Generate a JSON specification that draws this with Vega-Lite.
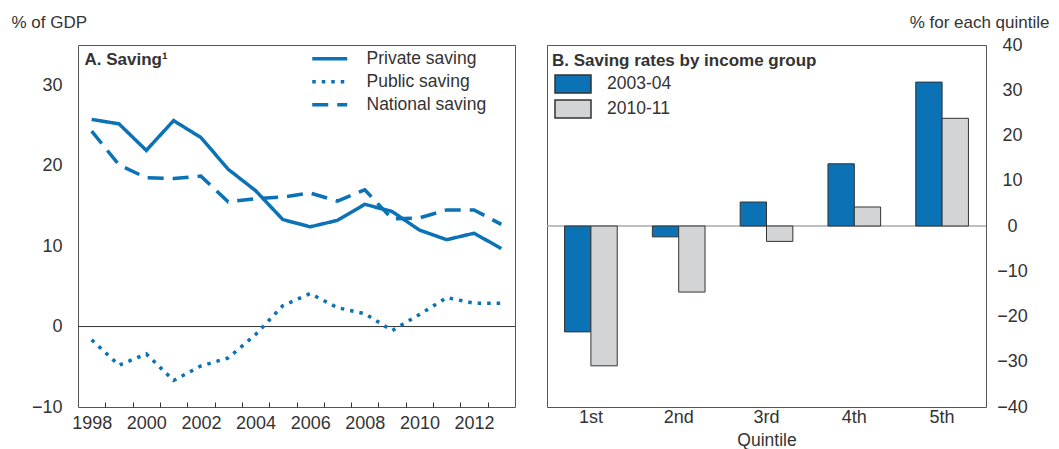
{
  "$schema": "https://vega.github.io/schema/vega-lite/v6.json",
  "padding": {"left": 10, "top": 12, "right": 5, "bottom": 0},
  "background": "white",
  "config": {
    "font": "Liberation Sans",
    "view": {"stroke": "#555", "strokeWidth": 1},
    "axis": {"labelColor": "#333", "titleColor": "#333", "domain": false, "grid": false, "labelFont": "Liberation Sans", "titleFont": "Liberation Sans"},
    "legend": {"labelFont": "Liberation Sans", "labelColor": "#333", "titleFont": "Liberation Sans", "titleColor": "#333"},
    "concat": {"spacing": 29}
  },
  "resolve": {"legend": {"strokeDash": "independent", "fill": "independent"}},
  "hconcat": [
    {
      "width": 437,
      "height": 362,
      "encoding": {
        "y": {
          "field": "v", "type": "quantitative",
          "scale": {"domain": [-10, 35], "nice": false, "zero": false},
          "axis": {"values": [-10, 0, 10, 20, 30], "ticks": false, "labelPadding": 16, "labelFontSize": 18, "title": "% of GDP", "titleAngle": 0, "titleAlign": "left", "titleBaseline": "top", "titleX": -67, "titleY": -31, "titleFontSize": 17, "titleFontWeight": "normal"}
        }
      },
      "layer": [
        {
          "data": {"values": [{"v": 0}]},
          "mark": {"type": "rule", "color": "#333", "strokeWidth": 1}
        },
        {
          "data": {"values": [
            {"year": 1998, "series": "Private saving", "v": 25.75},
            {"year": 1999, "series": "Private saving", "v": 25.2},
            {"year": 2000, "series": "Private saving", "v": 21.9},
            {"year": 2001, "series": "Private saving", "v": 25.6},
            {"year": 2002, "series": "Private saving", "v": 23.5},
            {"year": 2003, "series": "Private saving", "v": 19.55},
            {"year": 2004, "series": "Private saving", "v": 16.9},
            {"year": 2005, "series": "Private saving", "v": 13.3},
            {"year": 2006, "series": "Private saving", "v": 12.4},
            {"year": 2007, "series": "Private saving", "v": 13.2},
            {"year": 2008, "series": "Private saving", "v": 15.2},
            {"year": 2009, "series": "Private saving", "v": 14.3},
            {"year": 2010, "series": "Private saving", "v": 12.0},
            {"year": 2011, "series": "Private saving", "v": 10.8},
            {"year": 2012, "series": "Private saving", "v": 11.6},
            {"year": 2013, "series": "Private saving", "v": 9.7},
            {"year": 1998, "series": "Public saving", "v": -1.65},
            {"year": 1999, "series": "Public saving", "v": -4.8},
            {"year": 2000, "series": "Public saving", "v": -3.4},
            {"year": 2001, "series": "Public saving", "v": -6.7},
            {"year": 2002, "series": "Public saving", "v": -4.9},
            {"year": 2003, "series": "Public saving", "v": -3.9},
            {"year": 2004, "series": "Public saving", "v": -1.0},
            {"year": 2005, "series": "Public saving", "v": 2.6},
            {"year": 2006, "series": "Public saving", "v": 4.1},
            {"year": 2007, "series": "Public saving", "v": 2.35},
            {"year": 2008, "series": "Public saving", "v": 1.6},
            {"year": 2009, "series": "Public saving", "v": -0.5},
            {"year": 2010, "series": "Public saving", "v": 1.5},
            {"year": 2011, "series": "Public saving", "v": 3.6},
            {"year": 2012, "series": "Public saving", "v": 2.9},
            {"year": 2013, "series": "Public saving", "v": 2.9},
            {"year": 1998, "series": "National saving", "v": 24.3},
            {"year": 1999, "series": "National saving", "v": 20.1},
            {"year": 2000, "series": "National saving", "v": 18.5},
            {"year": 2001, "series": "National saving", "v": 18.4},
            {"year": 2002, "series": "National saving", "v": 18.7},
            {"year": 2003, "series": "National saving", "v": 15.5},
            {"year": 2004, "series": "National saving", "v": 15.9},
            {"year": 2005, "series": "National saving", "v": 16.1},
            {"year": 2006, "series": "National saving", "v": 16.6},
            {"year": 2007, "series": "National saving", "v": 15.6},
            {"year": 2008, "series": "National saving", "v": 17.0},
            {"year": 2009, "series": "National saving", "v": 13.4},
            {"year": 2010, "series": "National saving", "v": 13.5},
            {"year": 2011, "series": "National saving", "v": 14.5},
            {"year": 2012, "series": "National saving", "v": 14.5},
            {"year": 2013, "series": "National saving", "v": 12.7}
          ]},
          "mark": {"type": "line", "color": "#0b72b5", "strokeWidth": 3.5},
          "encoding": {
            "x": {
              "field": "year", "type": "quantitative",
              "scale": {"domain": [1997.5, 2013.5], "nice": false, "zero": false},
              "axis": {
                "title": "A. Saving¹", "titleAngle": 0, "titleAlign": "left", "titleBaseline": "middle", "titleX": 6, "titleY": -348, "titleFontSize": 17, "titleFontWeight": "bold",
                "values": [1998, 1998.5, 1999.5, 2000, 2000.5, 2001.5, 2002, 2002.5, 2003.5, 2004, 2004.5, 2005.5, 2006, 2006.5, 2007.5, 2008, 2008.5, 2009.5, 2010, 2010.5, 2011.5, 2012, 2012.5],
                "labelExpr": "datum.value % 1 == 0 ? '' + datum.value : ''",
                "labelOverlap": false, "labelFlush": false,
                "labelFontSize": 18, "labelPadding": 12,
                "tickSize": -5, "tickColor": "#333",
                "tickOpacity": {"condition": {"test": "datum.value % 1 == 0", "value": 0}, "value": 1}
              }
            },
            "strokeDash": {
              "field": "series", "type": "nominal",
              "scale": {"domain": ["Private saving", "Public saving", "National saving"], "range": [[1, 0], [3.5, 6], [16, 9]]},
              "legend": {"title": null, "orient": "none", "legendX": 243, "legendY": 5, "symbolType": "M-3,0H3", "symbolSize": 136, "symbolStrokeWidth": 3.5, "symbolStrokeColor": "#0b72b5", "symbolFillColor": "transparent", "labelFontSize": 17.5, "labelOffset": 28, "rowPadding": 4}
            }
          }
        }
      ]
    },
    {
      "width": 439,
      "height": 362,
      "encoding": {
        "y": {
          "field": "v", "type": "quantitative",
          "scale": {"domain": [-40, 40], "nice": false, "zero": false},
          "axis": {"orient": "right", "values": [-40, -30, -20, -10, 0, 10, 20, 30, 40], "ticks": false, "labelAlign": "center", "labelPadding": 26, "labelFontSize": 18, "title": "% for each quintile", "titleAngle": 0, "titleAlign": "right", "titleBaseline": "top", "titleX": 63, "titleY": -31, "titleFontSize": 17, "titleFontWeight": "normal"}
        }
      },
      "layer": [
        {
          "data": {"values": [{"v": 0}]},
          "mark": {"type": "rule", "color": "#aaa", "strokeWidth": 1.5}
        },
        {
          "data": {"values": [
            {"quintile": "1st", "period": "2003-04", "v": -23.4},
            {"quintile": "1st", "period": "2010-11", "v": -30.9},
            {"quintile": "2nd", "period": "2003-04", "v": -2.4},
            {"quintile": "2nd", "period": "2010-11", "v": -14.6},
            {"quintile": "3rd", "period": "2003-04", "v": 5.3},
            {"quintile": "3rd", "period": "2010-11", "v": -3.4},
            {"quintile": "4th", "period": "2003-04", "v": 13.75},
            {"quintile": "4th", "period": "2010-11", "v": 4.2},
            {"quintile": "5th", "period": "2003-04", "v": 31.8},
            {"quintile": "5th", "period": "2010-11", "v": 23.8}
          ]},
          "mark": {"type": "bar", "stroke": "#333", "strokeWidth": 1},
          "encoding": {
            "x": {
              "field": "quintile", "type": "nominal", "sort": ["1st", "2nd", "3rd", "4th", "5th"],
              "scale": {"paddingInner": 0.4, "paddingOuter": 0.2},
              "axis": {"ticks": false, "labelAngle": 0, "labelFontSize": 18, "labelPadding": 1, "title": "Quintile", "titleFontSize": 17.5, "titleFontWeight": "normal", "titlePadding": 5}
            },
            "xOffset": {"field": "period", "type": "nominal", "scale": {"paddingInner": 0, "paddingOuter": 0}},
            "fill": {
              "field": "period", "type": "nominal",
              "scale": {"domain": ["2003-04", "2010-11"], "range": ["#0b72b5", "#d3d4d6"]},
              "legend": {"title": "B. Saving rates by income group", "titleLimit": 500, "titleFontSize": 17, "titleFontWeight": "bold", "titlePadding": 4, "orient": "none", "legendX": 5, "legendY": 8, "symbolOffset": 11, "symbolType": "M-2,-1H2V1H-2Z", "symbolSize": 324, "symbolStrokeColor": "#333", "symbolStrokeWidth": 1.5, "symbolOpacity": 1, "labelFontSize": 17.5, "labelOffset": 24, "rowPadding": 1}
            }
          }
        }
      ]
    }
  ]
}
